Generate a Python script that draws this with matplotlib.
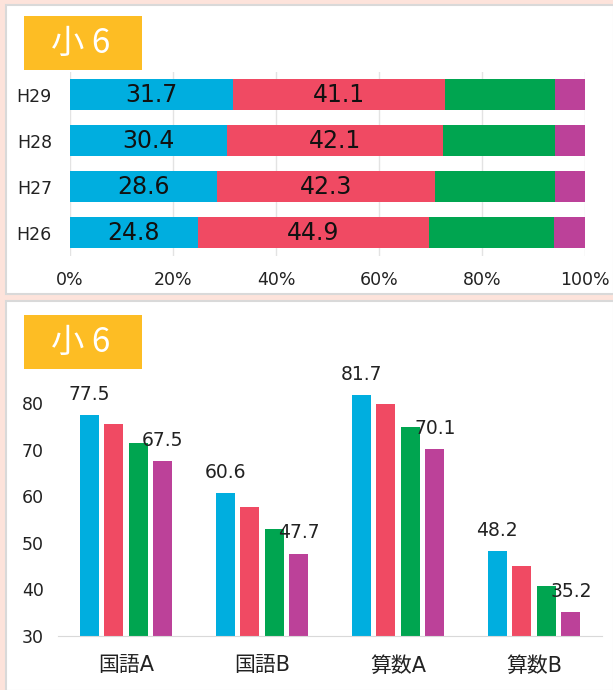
import numpy as np
import matplotlib
matplotlib.use('Agg')
import matplotlib.pyplot as plt
from matplotlib.patches import Rectangle

plt.rcParams['font.family'] = ['DejaVu Sans', 'Noto Sans CJK JP']

# data: top stacked bars (percent)
years = ['H26', 'H27', 'H28', 'H29']
seg1 = [24.8, 28.6, 30.4, 31.7]
seg2 = [44.9, 42.3, 42.1, 41.1]
seg3 = [24.3, 23.2, 21.7, 21.3]
seg4 = [6.0, 5.9, 5.8, 5.9]

# data: bottom grouped bars
subjects = ['国語A', '国語B', '算数A', '算数B']
y_h29 = [77.5, 60.6, 81.7, 48.2]
y_h28 = [75.6, 57.7, 79.7, 45.0]
y_h27 = [71.5, 53.0, 74.9, 40.7]
y_h26 = [67.5, 47.7, 70.1, 35.2]

colors = ['#00AEDF', '#F04A63', '#00A550', '#BC4199']
W, H = 613, 690


def box(x0, y0, x1, y1):
    # pixel box (top-left origin) -> figure fraction rect
    return [x0 / W, 1 - y1 / H, (x1 - x0) / W, (y1 - y0) / H]


fig = plt.figure(figsize=(W / 100, H / 100), dpi=100)
fig.patch.set_facecolor('#FDE3DB')

# white panels
for (x0, y0, x1, y1) in [(6, 5, 614, 294), (6, 301, 614, 691)]:
    r = box(x0, y0, x1, y1)
    fig.patches.append(Rectangle((r[0], r[1]), r[2], r[3], transform=fig.transFigure,
                                 facecolor='white', edgecolor='#D9D9D9', lw=1.5, zorder=-2))

# title badges
for (x0, y0, x1, y1) in [(24, 16, 142, 70), (24, 315, 142, 369)]:
    r = box(x0, y0, x1, y1)
    fig.patches.append(Rectangle((r[0], r[1]), r[2], r[3], transform=fig.transFigure,
                                 facecolor='#FDBD24', edgecolor='none', zorder=-1))
    fig.text((x0 + 57) / W, 1 - (y0 + y1) / 2 / H, '小 6', color='white', fontsize=24,
             family=['Noto Sans CJK JP'], ha='center', va='center', zorder=2)

# top: stacked horizontal bars
ax1 = fig.add_axes(box(70, 71.5, 585, 255.5))
ax1.set_zorder(3)
yy = np.arange(len(years))
left = np.zeros(len(years))
for vals, c in zip([seg1, seg2, seg3, seg4], colors):
    ax1.barh(yy, vals, left=left, height=0.67, color=c, zorder=2)
    left += np.array(vals)
for i in range(len(years)):
    ax1.text(seg1[i] / 2, yy[i], f'{seg1[i]:.1f}', ha='center', va='center',
             fontsize=17, color='#111111', zorder=3)
    ax1.text(seg1[i] + seg2[i] / 2, yy[i], f'{seg2[i]:.1f}', ha='center', va='center',
             fontsize=17, color='#111111', zorder=3)
ax1.set_xlim(0, 100)
ax1.set_ylim(-0.5, 3.5)
ax1.set_xticks(range(0, 101, 20))
ax1.set_xticklabels([f'{v}%' for v in range(0, 101, 20)])
ax1.set_yticks(yy)
ax1.set_yticklabels(years)
ax1.tick_params(length=0, labelsize=12.5, colors='#222222')
ax1.tick_params(axis='x', pad=11)
ax1.tick_params(axis='y', pad=13)
ax1.grid(axis='x', color='#E3E3E3', lw=1, zorder=0)
for s in ax1.spines.values():
    s.set_visible(False)
ax1.set_facecolor('none')

# bottom: grouped bars
ax2 = fig.add_axes(box(58, 379.7, 602, 636))
ax2.set_zorder(3)
x = np.arange(len(subjects))
pitch = 0.181
for k, (vals, c) in enumerate(zip([y_h29, y_h28, y_h27, y_h26], colors)):
    xs = x + (k - 1.5) * pitch
    ax2.bar(xs, np.array(vals) - 30, bottom=30, width=0.14, color=c, zorder=2)
    if k in (0, 3):
        for xi, v in zip(xs, vals):
            ax2.annotate(f'{v:.1f}', (xi, v), xytext=(0, 8), textcoords='offset points',
                         ha='center', va='bottom', fontsize=13.5, color='#222222', zorder=3)
ax2.set_xlim(-0.5, 3.5)
ax2.set_ylim(30, 85)
ax2.set_yticks(range(30, 81, 10))
ax2.set_xticks(x)
ax2.set_xticklabels(subjects, fontsize=15, color='#222222')
ax2.tick_params(axis='y', length=0, labelsize=12.5, colors='#222222', pad=10)
ax2.tick_params(axis='x', length=0, pad=14)
for s in ['top', 'right', 'left']:
    ax2.spines[s].set_visible(False)
ax2.spines['bottom'].set_color('#D9D9D9')
ax2.set_facecolor('none')

fig.savefig('out.png', dpi=100, facecolor=fig.get_facecolor())
